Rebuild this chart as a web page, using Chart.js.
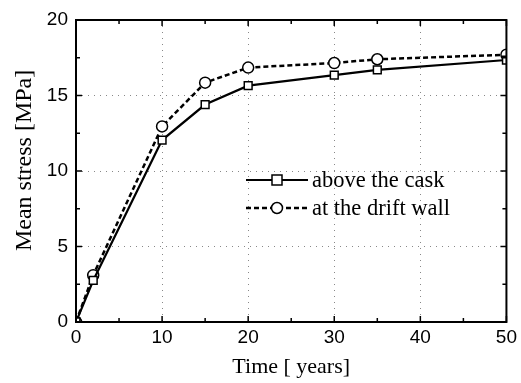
<!DOCTYPE html>
<html><head><meta charset="utf-8">
<script src="https://cdn.jsdelivr.net/npm/chart.js@4/dist/chart.umd.min.js"></script>
<style>html,body{margin:0;padding:0;background:#fff}#wrap{width:521px;height:383px}</style>
</head><body><div id="wrap"><canvas id="c" width="521" height="383"></canvas></div>
<script>
const years = [0, 2, 10, 15, 20, 30, 35, 50];
const aboveCask = [0, 2.75, 12.05, 14.4, 15.65, 16.35, 16.7, 17.35];
const driftWall = [0, 3.1, 12.95, 15.85, 16.85, 17.15, 17.4, 17.7];
const seriesNames = ["above the cask", "at the drift wall"];
const xTicks = [0, 10, 20, 30, 40, 50];
const yTicks = [0, 5, 10, 15, 20];
const xMinor = [5, 15, 25, 35, 45];
const yMinor = [2.5, 7.5, 12.5, 17.5];
const yTitle = 'Mean stress [MPa]';

const frame = {
  id: 'frame',
  afterDatasetsDraw(chart) {
    const {ctx, chartArea: a, scales: {x, y}} = chart;
    ctx.save();
    ctx.strokeStyle = '#000';
    ctx.lineWidth = 1.5;
    ctx.beginPath();
    xTicks.forEach(v => { const p = x.getPixelForValue(v); ctx.moveTo(p, a.bottom); ctx.lineTo(p, a.bottom - 6); ctx.moveTo(p, a.top); ctx.lineTo(p, a.top + 6); });
    xMinor.forEach(v => { const p = x.getPixelForValue(v); ctx.moveTo(p, a.bottom); ctx.lineTo(p, a.bottom - 4); ctx.moveTo(p, a.top); ctx.lineTo(p, a.top + 4); });
    yTicks.forEach(v => { const p = y.getPixelForValue(v); ctx.moveTo(a.left, p); ctx.lineTo(a.left + 6, p); ctx.moveTo(a.right, p); ctx.lineTo(a.right - 6, p); });
    yMinor.forEach(v => { const p = y.getPixelForValue(v); ctx.moveTo(a.left, p); ctx.lineTo(a.left + 4, p); ctx.moveTo(a.right, p); ctx.lineTo(a.right - 4, p); });
    ctx.stroke();
    ctx.lineWidth = 2;
    ctx.strokeRect(a.left, a.top, a.right - a.left, a.bottom - a.top);
    // y axis title
    ctx.save();
    ctx.translate(a.left - 51, y.getPixelForValue(10.7));
    ctx.rotate(-Math.PI / 2);
    ctx.font = '24px "Liberation Serif", "Times New Roman", serif';
    ctx.textAlign = 'center';
    ctx.textBaseline = 'middle';
    ctx.fillStyle = '#000';
    ctx.fillText(yTitle, 0, 0);
    ctx.restore();
    // legend
    const lx0 = a.left + 170, lx1 = a.left + 232, mx = (lx0 + lx1) / 2, ty = a.top + 160;
    const rows = [ty, ty + 28];
    ctx.font = '22.5px "Liberation Serif", "Times New Roman", serif';
    ctx.textBaseline = 'middle';
    ctx.fillStyle = '#000';
    chart.data.datasets.forEach((ds, i) => {
      const ry = rows[i];
      ctx.beginPath();
      ctx.lineWidth = ds.borderWidth;
      ctx.setLineDash(ds.borderDash || []);
      ctx.moveTo(lx0, ry); ctx.lineTo(lx1, ry); ctx.stroke();
      ctx.setLineDash([]);
      ctx.lineWidth = 1.5;
      ctx.fillStyle = '#fff';
      ctx.beginPath();
      if (ds.pointStyle === 'rect') { ctx.rect(mx - 5, ry - 5, 10, 10); }
      else { ctx.arc(mx, ry, 5.5, 0, Math.PI * 2); }
      ctx.fill(); ctx.stroke();
      ctx.fillStyle = '#000';
      ctx.fillText(ds.label, lx1 + 4, ry + 1);
    });
    ctx.restore();
  }
};

new Chart(document.getElementById('c'), {
  type: 'line',
  data: {
    datasets: [
      { label: seriesNames[0], data: years.map((t, i) => ({x: t, y: aboveCask[i]})),
        borderColor: '#000', borderWidth: 2.2, pointStyle: 'rect', pointRadius: 5.5,
        pointBackgroundColor: '#fff', pointBorderColor: '#000', pointBorderWidth: 1.5, tension: 0 },
      { label: seriesNames[1], data: years.map((t, i) => ({x: t, y: driftWall[i]})),
        borderColor: '#000', borderWidth: 2.5, borderDash: [5, 3], pointStyle: 'circle', pointRadius: 5.5,
        pointBackgroundColor: '#fff', pointBorderColor: '#000', pointBorderWidth: 1.5, tension: 0 }
    ]
  },
  options: {
    responsive: false, animation: false, devicePixelRatio: 1,
    layout: { padding: { top: 20, right: 14, left: 0, bottom: 0 } },
    plugins: { legend: { display: false }, tooltip: { enabled: false } },
    scales: {
      x: {
        type: 'linear', min: 0, max: 50,
        afterBuildTicks(s) { s.ticks = xTicks.map(v => ({value: v})); },
        afterFit(s) { s.height = 61; },
        grid: { color: '#888', lineWidth: 1, drawTicks: false },
        border: { display: false, dash: [1, 5] },
        ticks: { color: '#000', padding: 4, font: { family: '"Liberation Sans", Arial, sans-serif', size: 19 } },
        title: { display: true, text: 'Time [ years]', color: '#000', padding: { top: 2, bottom: 3 },
          font: { family: '"Liberation Serif", "Times New Roman", serif', size: 22 } }
      },
      y: {
        type: 'linear', min: 0, max: 20,
        afterBuildTicks(s) { s.ticks = yTicks.map(v => ({value: v})); },
        afterFit(s) { s.width = 76; },
        grid: { color: '#888', lineWidth: 1, drawTicks: false },
        border: { display: false, dash: [1, 5] },
        ticks: { color: '#000', padding: 8, font: { family: '"Liberation Sans", Arial, sans-serif', size: 19 } },
        title: { display: false }
      }
    }
  },
  plugins: [frame]
});
</script></body></html>
